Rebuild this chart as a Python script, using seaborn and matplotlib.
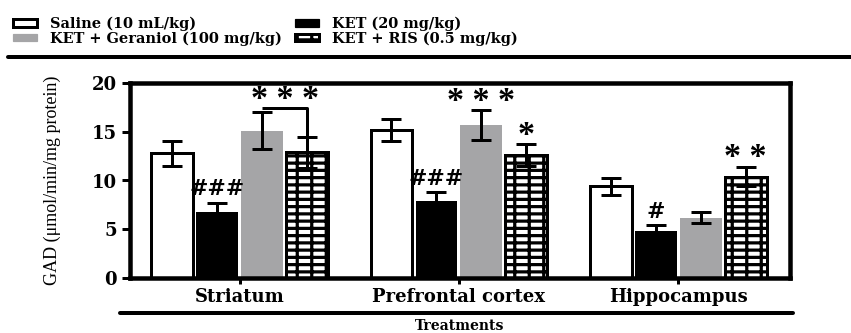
import matplotlib
matplotlib.use('Agg')
import matplotlib.pyplot as plt
from matplotlib.lines import Line2D
from matplotlib.patches import Patch
import numpy as np
import pandas as pd
import seaborn as sns

DPI = 87


def px(v):
    # pixel size -> points at this dpi
    return v * 72 / DPI


regions = ['Striatum', 'Prefrontal cortex', 'Hippocampus']
groups = ['Saline (10 mL/kg)', 'KET (20 mg/kg)',
          'KET + Geraniol (100 mg/kg)', 'KET + RIS (0.5 mg/kg)']

saline_mean = [12.8, 15.2, 9.4]
saline_sem = [1.3, 1.1, 0.9]
ket_mean = [6.8, 7.9, 4.8]
ket_sem = [0.9, 0.9, 0.6]
geraniol_mean = [15.1, 15.7, 6.2]
geraniol_sem = [1.9, 1.5, 0.6]
ris_mean = [12.9, 12.6, 10.4]
ris_sem = [1.6, 1.1, 1.0]

# significance marks per bar ('' = none)
saline_marks = ['', '', '']
ket_marks = ['###', '###', '#']
geraniol_marks = ['', '***', '']
ris_marks = ['', '*', '**']

# striatum comparison bracket (geraniol -> RIS) and its mark
bracket_y = 17.4
bracket_low = 11.8
bracket_mark = '***'
bracket_mark_y = 19.1

df = pd.DataFrame({
    'region': regions * 4,
    'group': np.repeat(groups, 3),
    'GAD': saline_mean + ket_mean + geraniol_mean + ris_mean,
})
sems = [saline_sem, ket_sem, geraniol_sem, ris_sem]
marks = [saline_marks, ket_marks, geraniol_marks, ris_marks]

sns.set_theme(style='ticks', rc={
    'axes.edgecolor': 'black', 'text.color': 'black',
    'xtick.color': 'black', 'ytick.color': 'black',
    'axes.labelcolor': 'black',
})
plt.rcParams['font.family'] = ['DejaVu Serif']
plt.rcParams['font.weight'] = 'bold'
plt.rcParams['hatch.linewidth'] = px(3.2)

fig = plt.figure(figsize=((851 + 0.01) / DPI, (333 + 0.01) / DPI), dpi=DPI)
ax = fig.add_axes([130 / 851, 1 - 278 / 333, 660 / 851, 195 / 333])

sns.barplot(data=df, x='region', y='GAD', hue='group', order=regions,
            hue_order=groups, errorbar=None, width=0.82, gap=0.07,
            legend=False, ax=ax)

gray = '#a5a5a7'
styles = [
    dict(facecolor='white', edgecolor='black', linewidth=px(3), hatch=None),
    dict(facecolor='black', edgecolor='black', linewidth=0, hatch=None),
    dict(facecolor=gray, edgecolor=gray, linewidth=0, hatch=None),
    dict(facecolor='white', edgecolor='black', linewidth=px(3), hatch='--|'),
]


def star_text(text, x, y):
    fs = px(34)
    ax.annotate(' '.join(text), xy=(x, y), xytext=(0, -0.47 * fs),
                textcoords='offset points', ha='center', va='baseline',
                fontsize=fs, fontweight='bold', fontfamily='Liberation Serif',
                zorder=7)


for container, st, sem, mk in zip(ax.containers, styles, sems, marks):
    xs, ys = [], []
    for bar in container:
        bar.set_facecolor(st['facecolor'])
        bar.set_edgecolor(st['edgecolor'])
        bar.set_linewidth(st['linewidth'])
        if st['hatch']:
            bar.set_hatch(st['hatch'])
        xs.append(bar.get_x() + bar.get_width() / 2)
        ys.append(bar.get_height())
    ax.errorbar(xs, ys, yerr=sem, fmt='none', ecolor='black',
                elinewidth=px(3), capsize=px(10), capthick=px(3), zorder=5)
    for x, y, e, m in zip(xs, ys, sem, mk):
        if not m:
            continue
        if '*' in m:
            star_text(m, x, y + e + 1.7)
        else:
            fs = px(22)
            ax.annotate(m, xy=(x, y + e + 1.6), xytext=(0, -0.36 * fs),
                        textcoords='offset points', ha='center', va='baseline',
                        fontsize=fs, fontweight='bold', fontstyle='italic')

# bracket in striatum
xg = ax.containers[2][0].get_x() + ax.containers[2][0].get_width() / 2
xr = ax.containers[3][0].get_x() + ax.containers[3][0].get_width() / 2
ax.plot([xg, xr, xr], [bracket_y, bracket_y, bracket_low], color='black',
        lw=px(3), zorder=6, solid_capstyle='butt')
star_text(bracket_mark, (xg + xr) / 2, bracket_mark_y)

ax.set_ylim(0, 20)
ax.set_xlim(-0.5, 2.51)
ax.set_yticks([0, 5, 10, 15, 20])
ax.set_xlabel('')
ax.set_ylabel('GAD (μmol/min/mg protein)', fontfamily='Liberation Serif',
              fontweight='normal', fontsize=px(18))
ax.yaxis.set_label_coords(-0.105, 0.5)
for side in ['left', 'right', 'top', 'bottom']:
    ax.spines[side].set_visible(True)
    ax.spines[side].set_linewidth(px(4.5))
ax.tick_params(axis='y', direction='out', length=px(8), width=px(3),
               pad=px(5), labelsize=px(18))
ax.tick_params(axis='x', direction='out', length=px(6), width=px(3),
               pad=px(4), labelsize=px(18))
for lab in ax.get_xticklabels() + ax.get_yticklabels():
    lab.set_fontweight('bold')

# legend
handles = [
    Patch(facecolor='white', edgecolor='black', linewidth=px(3)),
    Patch(facecolor=gray, edgecolor=gray),
    Patch(facecolor='black', edgecolor='black'),
    Patch(facecolor='white', edgecolor='black', linewidth=px(3), hatch='--|'),
]
labels = [groups[0], groups[2], groups[1], groups[3]]
fig.legend(handles, labels, loc='upper left', bbox_to_anchor=(13 / 851, 1 - 17 / 333),
           ncol=2, frameon=False, fontsize=px(14.5), handlelength=24 / 14.5,
           handleheight=6 / 14.5, handletextpad=13 / 14.5, columnspacing=0.9,
           labelspacing=0.0, borderpad=0, borderaxespad=0)

fig.add_artist(Line2D([8 / 851, 1], [1 - 57 / 333] * 2, lw=px(4), color='black',
                      transform=fig.transFigure))
fig.add_artist(Line2D([120 / 851, 793 / 851], [1 - 313 / 333] * 2, lw=px(4),
                      color='black', transform=fig.transFigure))
fig.text(460 / 851, 1 - 332.5 / 333, 'Treatments', ha='center', va='bottom',
         fontsize=px(14), fontweight='bold')

fig.savefig('out.png', dpi=DPI)
